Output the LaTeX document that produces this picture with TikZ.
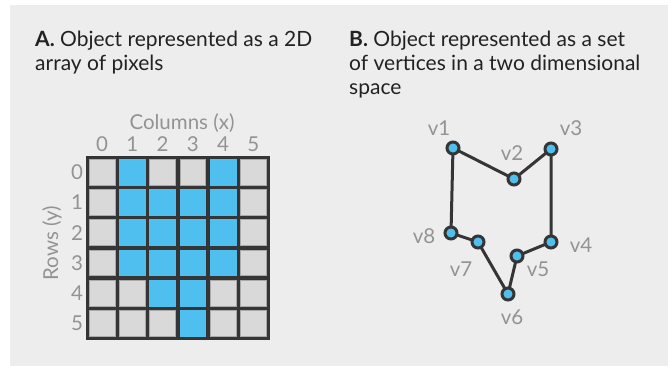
\documentclass[tikz,border=0pt]{standalone}
\usepackage{fontspec}
\setmainfont{Lato}
\definecolor{bgc}{HTML}{EDEDED}
\definecolor{gridc}{HTML}{353535}
\definecolor{cellc}{HTML}{D9D9D9}
\definecolor{cellb}{HTML}{AAAAAA}
\definecolor{bluec}{HTML}{4FBFEF}
\definecolor{labc}{HTML}{939393}
\definecolor{titc}{HTML}{222222}
\begin{document}
\begin{tikzpicture}[x=1pt,y=-1pt,
  title/.style={anchor=base west,text=titc,font=\fontsize{21}{24}\selectfont,inner sep=0pt},
  lab/.style={text=labc,font=\fontsize{20.5}{22}\selectfont,inner sep=0pt},
  gcell/.style={fill=cellc,draw=cellb,line width=0.8pt},
  bcell/.style={fill=bluec,draw=bluec,line width=0.8pt},
  edge/.style={draw=gridc,line width=3pt,line cap=round,line join=round},
  vert/.style={circle,fill=bluec,draw=gridc,line width=3pt,minimum size=12pt,inner sep=0pt}]
\useasboundingbox (0,0) rectangle (668,366);
\fill[white] (-2,-2) rectangle (670,368);
\fill[bgc] (10,5) rectangle (670,368);
% titles
\node[title] (ta1) at (35,47) {\textbf{A.} Object represented as a 2D};
\node[title] (ta2) at (35,71) {array of pixels};
\node[title] (tb1) at (349,47) {\textbf{B.} Object represented as a set};
\node[title] (tb2) at (349,71) {of vertices in a two dimensional};
\node[title] (tb3) at (349,95) {space};
% grid
\def\gx{87}\def\gy{157}\def\cs{30.25}
\fill[gridc] (\gx-1.5,\gy-1.5) rectangle (\gx+6*\cs+1.5,\gy+6*\cs+1.5);
\foreach \r/\cols in {0/{1,4},1/{1,2,3,4},2/{1,2,3,4},3/{1,2,3,4},4/{2,3},5/{3}}{
  \foreach \c in {0,...,5}{
    \path[gcell] (\gx+\c*\cs+2.2,\gy+\r*\cs+2.2) rectangle (\gx+\c*\cs+\cs-2.2,\gy+\r*\cs+\cs-2.2);
  }
  \foreach \c in \cols{
    \path[bcell] (\gx+\c*\cs+2.2,\gy+\r*\cs+2.2) rectangle (\gx+\c*\cs+\cs-2.2,\gy+\r*\cs+\cs-2.2);
  }
}
\node[lab] (colt) at (182,123) {Columns (x)};
\foreach \c in {0,...,5}{
  \node[lab] (cn\c) at (\gx+\c*\cs+\cs/2,144) {\c};
}
\foreach \c in {0,...,5}{
  \node[lab] (rn\c) at (77,\gy+\c*\cs+\cs/2) {\c};
}
\node[lab,rotate=90] (rowt) at (52,243) {Rows (y)};
% polygon
\coordinate (p1) at (453,148);
\coordinate (p2) at (514,179);
\coordinate (p3) at (551,149);
\coordinate (p4) at (551,242);
\coordinate (p5) at (517,256);
\coordinate (p6) at (508,294);
\coordinate (p7) at (478,242);
\coordinate (p8) at (451,233);
\draw[edge] (p1) -- (p2) -- (p3) -- (p4) -- (p5) -- (p6) -- (p7) -- (p8) -- cycle;
\foreach \i in {1,...,8}{\node[vert] (v\i) at (p\i) {};}
\node[lab] (l1) at (439,128) {v1};
\node[lab] (l2) at (512,153) {v2};
\node[lab] (l3) at (571,128) {v3};
\node[lab] (l4) at (581,245) {v4};
\node[lab] (l5) at (538,269) {v5};
\node[lab] (l6) at (512,317) {v6};
\node[lab] (l7) at (461,269) {v7};
\node[lab] (l8) at (424,236) {v8};
\end{tikzpicture}
\end{document}
